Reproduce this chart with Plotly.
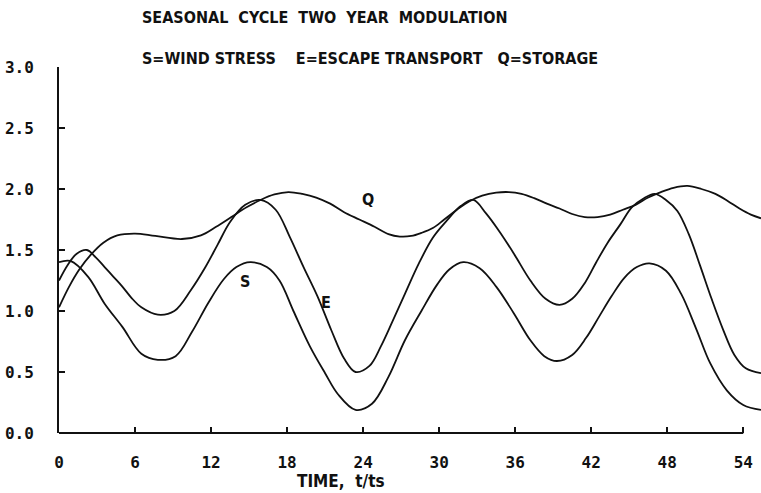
import plotly.graph_objects as go

# Wind stress S
s_time = [0.0, 0.9, 2.3, 3.6, 5.0, 6.5, 7.8, 9.2, 10.5, 11.8, 13.0, 14.0, 15.1, 16.4,
          17.4, 18.5, 19.8, 21.0, 22.0, 23.4, 24.7, 26.0, 27.3, 28.6, 29.8, 30.8, 31.9,
          33.2, 34.5, 35.9, 37.2, 38.3, 39.3, 40.5, 41.6, 42.6, 43.6, 44.6, 45.6, 46.6,
          47.9, 49.1, 50.3, 51.4, 52.7, 54.0, 55.4]
s_value = [1.40, 1.41, 1.28, 1.06, 0.87, 0.65, 0.60, 0.63, 0.83, 1.07, 1.26, 1.36, 1.40, 1.36,
           1.25, 1.00, 0.71, 0.49, 0.32, 0.19, 0.24, 0.46, 0.76, 1.00, 1.21, 1.34, 1.40,
           1.35, 1.20, 0.98, 0.76, 0.63, 0.59, 0.64, 0.78, 0.95, 1.12, 1.27, 1.36, 1.39,
           1.33, 1.14, 0.85, 0.57, 0.35, 0.23, 0.19]

# Escape transport E
e_time = [0.0, 0.7, 1.4, 2.2, 2.9, 3.6, 4.3, 5.0, 5.7, 6.5, 7.8, 9.1, 10.4, 11.5, 12.5,
          13.5, 14.7, 15.9, 17.1, 18.2, 19.3, 20.4, 21.5, 22.5, 23.4, 24.5, 25.4, 26.3,
          27.3, 28.4, 29.5, 30.6, 31.7, 32.7, 33.7, 34.7, 35.9, 37.2, 38.4, 39.5, 40.5,
          41.5, 42.4, 43.3, 44.3, 45.2, 46.1, 47.0, 47.9, 48.8, 49.7, 50.6, 51.5, 52.4,
          53.3, 54.2, 55.4]
e_value = [1.25, 1.38, 1.47, 1.50, 1.44, 1.36, 1.28, 1.20, 1.11, 1.03, 0.97, 1.00, 1.17, 1.35, 1.54,
           1.73, 1.87, 1.91, 1.83, 1.61, 1.36, 1.12, 0.84, 0.61, 0.50, 0.55, 0.71, 0.91,
           1.14, 1.39, 1.60, 1.74, 1.86, 1.91, 1.80, 1.66, 1.47, 1.25, 1.10, 1.05, 1.10,
           1.23, 1.40, 1.56, 1.71, 1.85, 1.92, 1.96, 1.91, 1.82, 1.63, 1.37, 1.10, 0.85,
           0.64, 0.53, 0.49]

# Storage Q
q_time = [0.0, 0.8, 1.6, 2.5, 3.5, 4.6, 6.0, 7.6, 9.7, 11.2, 12.4, 13.6, 14.8, 15.9, 17.0,
          18.1, 19.2, 20.3, 21.4, 22.5, 23.7, 24.9, 26.0, 26.9, 27.8, 28.6, 29.5, 30.4,
          31.4, 32.4, 33.4, 34.5, 35.5, 36.5, 37.5, 38.5, 39.5, 40.5, 41.5, 42.5, 43.5,
          44.5, 45.5, 46.5, 47.5, 48.5, 49.6, 50.7, 51.8, 52.8, 53.7, 54.6, 55.4]
q_value = [1.03, 1.20, 1.34, 1.46, 1.56, 1.62, 1.635, 1.615, 1.59, 1.62, 1.69, 1.77, 1.85, 1.91, 1.955,
           1.975, 1.96, 1.93, 1.88, 1.81, 1.75, 1.69, 1.63, 1.61, 1.615, 1.64, 1.68, 1.75,
           1.83, 1.90, 1.945, 1.97, 1.975, 1.96, 1.925, 1.88, 1.84, 1.795, 1.77, 1.77, 1.79,
           1.83, 1.87, 1.93, 1.975, 2.01, 2.025, 2.00, 1.96, 1.90, 1.84, 1.79, 1.76]

x_ticks = [0, 6, 12, 18, 24, 30, 36, 42, 48, 54]
y_ticks = [0.0, 0.5, 1.0, 1.5, 2.0, 2.5, 3.0]

curve_labels = [("S", 14.7, 1.24), ("E", 21.1, 1.07), ("Q", 24.4, 1.91)]

W, H = 761, 493
ML, MR, MT, MB = 59, 0, 67, 60

ink = "#111111"
mono = "DejaVu Sans Mono"
narrow = "DejaVu Sans Condensed, DejaVu Sans, sans-serif"

fig = go.Figure()
for t, v in [(s_time, s_value), (e_time, e_value), (q_time, q_value)]:
    fig.add_trace(go.Scatter(x=t, y=v, mode="lines",
                             line=dict(color=ink, width=1.8, shape="spline", smoothing=1.0),
                             showlegend=False, hoverinfo="skip"))

for name, tx, ty in curve_labels:
    fig.add_annotation(x=tx, y=ty, xref="x", yref="y", text=f"<b>{name}</b>",
                       showarrow=False, font=dict(family=narrow, size=16, color=ink))

# x axis line stops at the last labelled tick
fig.add_shape(type="line", xref="x", yref="paper", x0=0, x1=54, y0=0, y1=0,
              line=dict(color=ink, width=1.8))

def px_x(p):
    return (p - ML) / (W - ML - MR)

def px_y(p):
    return (H - MB - p) / (H - MT - MB)

fig.add_annotation(x=px_x(140), y=px_y(18), xref="paper", yref="paper",
                   xanchor="left", yanchor="middle",
                   text="<b>SEASONAL  CYCLE  TWO  YEAR  MODULATION</b>", showarrow=False,
                   font=dict(family=narrow, size=16, color=ink))
fig.add_annotation(x=px_x(140), y=px_y(58), xref="paper", yref="paper",
                   xanchor="left", yanchor="middle",
                   text="<b>S=WIND STRESS    E=ESCAPE TRANSPORT   Q=STORAGE</b>", showarrow=False,
                   font=dict(family=narrow, size=16, color=ink))
fig.add_annotation(x=px_x(341), y=px_y(481), xref="paper", yref="paper",
                   xanchor="center", yanchor="middle",
                   text="<b>TIME,  t/ts</b>", showarrow=False,
                   font=dict(family=narrow, size=17, color=ink))

fig.update_layout(
    width=W, height=H,
    margin=dict(l=ML, r=MR, t=MT, b=MB),
    paper_bgcolor="white", plot_bgcolor="white",
    xaxis=dict(range=[0, 55.4], tickvals=x_ticks, ticks="inside", ticklen=6, tickwidth=1.6,
               tickcolor=ink, showgrid=False, zeroline=False, showline=False,
               ticklabelstandoff=18,
               tickfont=dict(family=mono, size=16, color=ink, weight="bold")),
    yaxis=dict(range=[0, 3.0], tickvals=y_ticks, tickformat=".1f", ticks="inside", ticklen=6,
               tickwidth=1.6, tickcolor=ink, showgrid=False, zeroline=False, showline=True,
               linecolor=ink, linewidth=1.8, ticklabelstandoff=20,
               tickfont=dict(family=mono, size=16, color=ink, weight="bold")),
)

fig.write_html("out.html")
